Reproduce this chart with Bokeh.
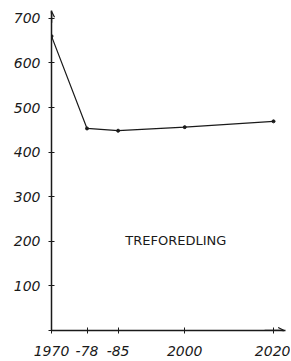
from bokeh.plotting import figure
from bokeh.models import Range1d, FixedTicker, Arrow, OpenHead, Label
from bokeh.embed import file_html
from bokeh.resources import INLINE

# Data
years = [1970, 1978, 1985, 2000, 2020]
values = [660, 453, 448, 456, 469]
x_tick_labels = ["1970", "-78", "-85", "2000", "2020"]
y_ticks = [0, 100, 200, 300, 400, 500, 600, 700]
y_tick_labels = ["", "100", "200", "300", "400", "500", "600", "700"]
title_text = "TREFOREDLING"

FONT = "DejaVu Sans"
INK = "#1a1a1a"

p = figure(width=290, height=360, output_backend="svg", toolbar_location=None,
           x_range=Range1d(1970, 2022.7), y_range=Range1d(0, 717.5),
           min_border_left=51, min_border_right=5, min_border_top=10, min_border_bottom=30)
p.outline_line_color = None
p.xgrid.visible = False
p.ygrid.visible = False
p.background_fill_color = "white"
p.border_fill_color = "white"

p.xaxis.ticker = FixedTicker(ticks=years)
p.xaxis.major_label_overrides = {y: l for y, l in zip(years, x_tick_labels)}
p.yaxis.ticker = FixedTicker(ticks=y_ticks)
p.yaxis.major_label_overrides = {t: l for t, l in zip(y_ticks, y_tick_labels)}

for ax in (p.xaxis[0], p.yaxis[0]):
    ax.axis_line_color = INK
    ax.axis_line_width = 1.5
    ax.major_tick_line_color = INK
    ax.major_tick_in = 3
    ax.major_tick_out = 3
    ax.minor_tick_line_color = None
    ax.major_label_text_font = FONT
    ax.major_label_text_font_style = "italic"
    ax.major_label_text_color = INK
p.xaxis.major_label_text_font_size = "14px"
p.yaxis.major_label_text_font_size = "14px"
p.xaxis.major_label_standoff = 12
p.yaxis.major_label_standoff = 8

p.line(years, values, line_color=INK, line_width=1.2)
p.scatter(years, values, size=3, color=INK, marker="circle")

p.add_layout(Arrow(end=OpenHead(size=6, line_color=INK, line_width=1.2),
                   x_start=1970, y_start=690, x_end=1970, y_end=716,
                   line_color=INK, line_width=1.5))
p.add_layout(Arrow(end=OpenHead(size=6, line_color=INK, line_width=1.2),
                   x_start=2018, y_start=0, x_end=2022.4, y_end=0,
                   line_color=INK, line_width=1.5))

p.add_layout(Label(x=1998, y=202, text=title_text, text_font=FONT,
                   text_font_size="13px", text_align="center", text_baseline="middle",
                   text_color=INK))

open("out.html", "w").write(file_html(p, INLINE))
